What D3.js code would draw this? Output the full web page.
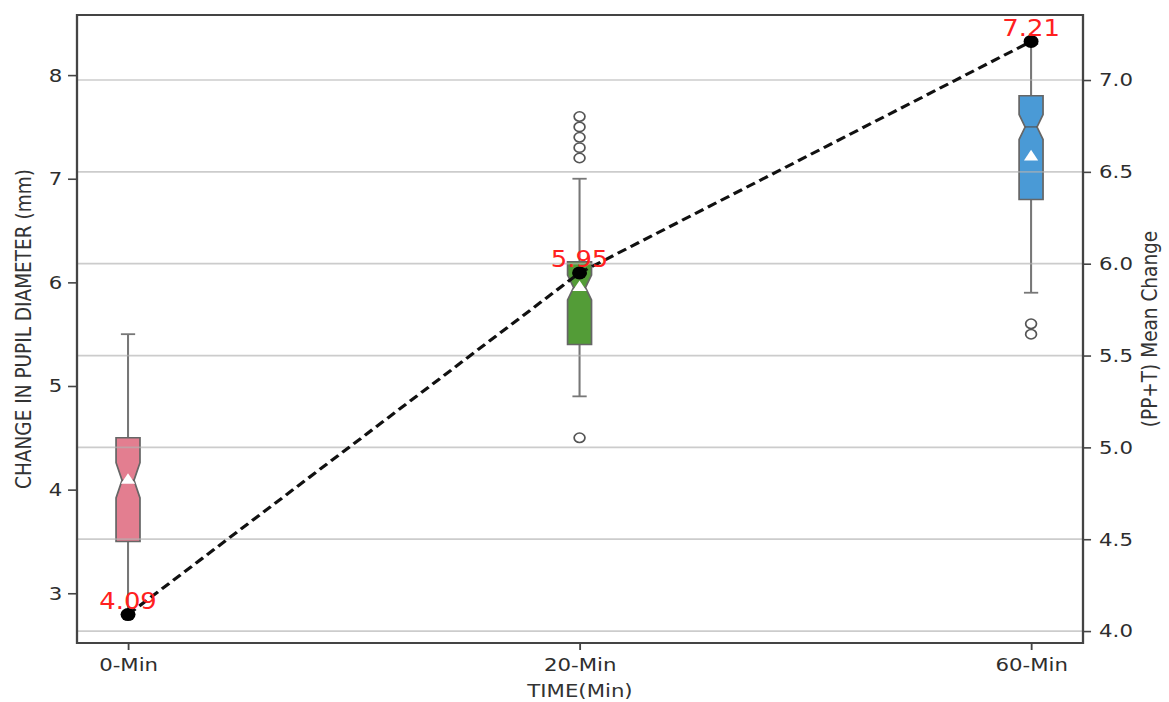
<!DOCTYPE html>
<html><head><meta charset="utf-8">
<script src="https://cdn.jsdelivr.net/npm/d3@7"></script>
<style>body{margin:0;background:#fff} text{font-family:"DejaVu Sans",sans-serif}</style>
</head><body><svg id="c" width="1169" height="702"></svg>
<script>
// ---- data ----
const categories = ["0-Min", "20-Min", "60-Min"];
const whiskerLow = [2.8, 4.9, 5.9];
const q1 = [3.5, 5.4, 6.8];
const notchLow = [3.92, 5.83, 7.38];
const medians = [4.09, 5.95, 7.5];
const notchHigh = [4.26, 6.07, 7.62];
const q3 = [4.5, 6.2, 7.8];
const whiskerHigh = [5.5, 7.0, 8.3];
const boxMeans = [4.09, 5.95, 7.21];
const outliers = [[], [7.6, 7.5, 7.4, 7.3, 7.2, 4.5], [5.6, 5.5]];
const meanChange = [4.09, 5.95, 7.21];
const meanLabels = ["4.09", "5.95", "7.21"];
const leftTicks = [3, 4, 5, 6, 7, 8];
const rightTicks = [4.0, 4.5, 5.0, 5.5, 6.0, 6.5, 7.0];

// ---- styles ----
const boxColors = ["#e37e90", "#539c37", "#4a9ad6"];
const sx = 1.15; // horizontal stretch of the reference picture

const svg = d3.select("#c");
const g = svg.append("g").attr("transform", `scale(${sx},1)`);

const L = 77 / sx, R = 1083 / sx, T = 15, B = 643;
const x = d3.scaleLinear().domain([-0.113, 2.115]).range([L, R]);
const yL = d3.scaleLinear().domain([2.52, 8.58]).range([B, T]);
const yR = d3.scaleLinear().domain([3.935, 7.354]).range([B, T]);

const hw = 10.4, capHw = 6.2;

// boxes
categories.forEach((c, i) => {
  const cx = x(i);
  const bg = g.append("g");
  bg.append("line").attr("x1", cx).attr("x2", cx).attr("y1", yL(q1[i])).attr("y2", yL(whiskerLow[i]))
    .attr("stroke", "#777").attr("stroke-width", 1.8);
  bg.append("line").attr("x1", cx).attr("x2", cx).attr("y1", yL(q3[i])).attr("y2", yL(whiskerHigh[i]))
    .attr("stroke", "#777").attr("stroke-width", 1.8);
  [whiskerLow[i], whiskerHigh[i]].forEach(v => {
    bg.append("line").attr("x1", cx - capHw).attr("x2", cx + capHw).attr("y1", yL(v)).attr("y2", yL(v))
      .attr("stroke", "#777").attr("stroke-width", 1.8);
  });
  const p = d3.path();
  p.moveTo(cx - hw, yL(q1[i]));
  p.lineTo(cx - hw, yL(notchLow[i]));
  p.lineTo(cx - hw / 2, yL(medians[i]));
  p.lineTo(cx - hw, yL(notchHigh[i]));
  p.lineTo(cx - hw, yL(q3[i]));
  p.lineTo(cx + hw, yL(q3[i]));
  p.lineTo(cx + hw, yL(notchHigh[i]));
  p.lineTo(cx + hw / 2, yL(medians[i]));
  p.lineTo(cx + hw, yL(notchLow[i]));
  p.lineTo(cx + hw, yL(q1[i]));
  p.closePath();
  bg.append("path").attr("d", p.toString()).attr("fill", boxColors[i])
    .attr("stroke", "#666").attr("stroke-width", 1.5);
  bg.append("line").attr("x1", cx - hw / 2).attr("x2", cx + hw / 2)
    .attr("y1", yL(medians[i])).attr("y2", yL(medians[i]))
    .attr("stroke", "#555").attr("stroke-width", 1.2);
  bg.append("path").attr("d", d3.symbol(d3.symbolTriangle, 66)())
    .attr("transform", `translate(${cx},${yL(boxMeans[i])})`).attr("fill", "#fff");
  bg.selectAll("circle.o").data(outliers[i]).enter().append("circle")
    .attr("cx", cx).attr("cy", d => yL(d)).attr("r", 4.7)
    .attr("fill", "none").attr("stroke", "#555").attr("stroke-width", 1.5);
});

// grid (right axis)
g.append("g").selectAll("line").data(rightTicks).enter().append("line")
  .attr("x1", L).attr("x2", R).attr("y1", d => yR(d)).attr("y2", d => yR(d))
  .attr("stroke", "#b0b0b0").attr("stroke-opacity", 0.65).attr("stroke-width", 1.7);

// axes
function styleAxis(sel) {
  sel.select(".domain").remove();
  sel.selectAll(".tick line").attr("stroke", "#444").attr("stroke-width", 1.6);
  sel.selectAll(".tick text").attr("fill", "#2e2e2e").style("font-size", "18.5px")
    .style("font-family", "DejaVu Sans, sans-serif");
}
g.append("g").attr("transform", `translate(${L},0)`)
  .call(d3.axisLeft(yL).tickValues(leftTicks).tickFormat(d3.format("d")).tickSize(7.8).tickPadding(5))
  .call(styleAxis);
g.append("g").attr("transform", `translate(${R},0)`)
  .call(d3.axisRight(yR).tickValues(rightTicks).tickFormat(d3.format(".1f")).tickSize(7).tickPadding(7))
  .call(styleAxis);
g.append("g").attr("transform", `translate(0,${B})`)
  .call(d3.axisBottom(x).tickValues([0, 1, 2]).tickFormat(i => categories[i]).tickSize(7).tickPadding(8))
  .call(styleAxis);

// mean change line
const line = d3.line().x((d, i) => x(i)).y(d => yR(d));
g.append("path").datum(meanChange).attr("d", line).attr("fill", "none")
  .attr("stroke", "#111").attr("stroke-width", 3).attr("stroke-dasharray", "8.5,4.5");
g.selectAll("circle.m").data(meanChange).enter().append("circle")
  .attr("cx", (d, i) => x(i)).attr("cy", d => yR(d)).attr("r", 6.5).attr("fill", "#000");
g.selectAll("text.ml").data(meanChange).enter().append("text")
  .attr("x", (d, i) => x(i)).attr("y", d => yR(d) - 5.5).attr("text-anchor", "middle")
  .attr("fill", "#ff2020").style("font-size", "22.5px").text((d, i) => meanLabels[i]);

// spines
g.append("rect").attr("x", L).attr("y", T).attr("width", R - L).attr("height", B - T)
  .attr("fill", "none").attr("stroke", "#444").attr("stroke-width", 2);

// labels
g.append("text").attr("transform", `translate(${31 / sx},${(T + B) / 2}) rotate(-90)`)
  .attr("text-anchor", "middle").attr("fill", "#333").style("font-size", "18.5px")
  .text("CHANGE IN PUPIL DIAMETER (mm)");
g.append("text").attr("transform", `translate(${1157 / sx},${(T + B) / 2}) rotate(-90)`)
  .attr("text-anchor", "middle").attr("fill", "#333").style("font-size", "18.5px")
  .text("(PP+T) Mean Change");
g.append("text").attr("x", (L + R) / 2).attr("y", 697).attr("text-anchor", "middle")
  .attr("fill", "#333").style("font-size", "18.5px").text("TIME(Min)");
</script></body></html>
